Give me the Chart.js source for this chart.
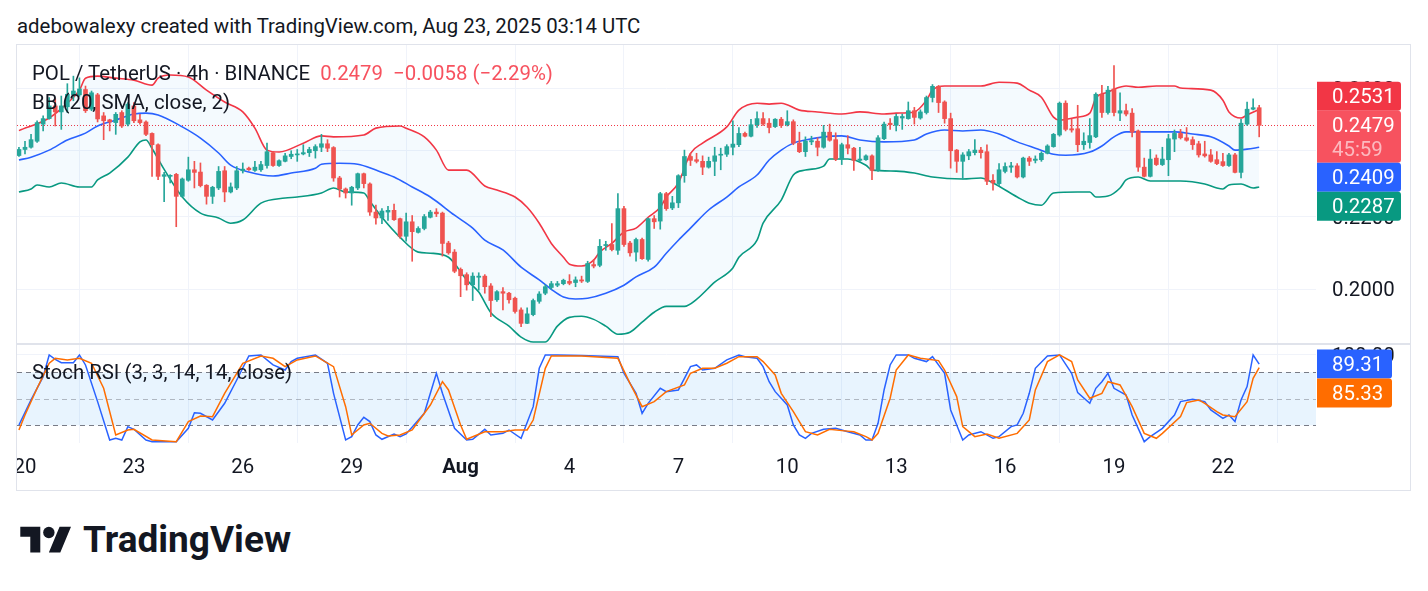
<!DOCTYPE html>
<html lang="en">
<head>
<meta charset="UTF-8">
<title>POL / TetherUS 4h</title>
<script src="https://cdn.jsdelivr.net/npm/chart.js"></script>
<style>
  body { margin: 0; width: 1428px; height: 591px; background: #fff; font-family: Roboto, sans-serif; color: #131722; position: relative; overflow: hidden; }
  .credit { position: absolute; left: 17px; top: 14px; font-size: 20.4px; line-height: 24px; white-space: nowrap; }
  .frame { position: absolute; left: 16px; top: 44px; width: 1393px; height: 445px; border: 1px solid #E0E3EB; }
  #chart { position: absolute; left: 0; top: 0; }
  .legend { position: absolute; left: 15px; font-size: 20.4px; line-height: 24px; white-space: pre; }
  .legend .chg { color: #F7525F; }
  .logo { position: absolute; left: 20px; top: 521px; }
  .logo-text { position: absolute; left: 83px; top: 518px; font-size: 37px; line-height: 44px; font-weight: 700; }
</style>
</head>
<body>
<div class="credit">adebowalexy created with TradingView.com, Aug 23, 2025 03:14 UTC</div>
<div class="frame">
  <canvas id="chart" width="1393" height="445"></canvas>
  <div class="legend" style="top:16px">POL / TetherUS · 4h · BINANCE  <span class="chg">0.2479  −0.0058 (−2.29%)</span></div>
  <div class="legend" style="top:45px">BB (20, SMA, close, 2)</div>
  <div class="legend" style="top:315px">Stoch RSI (3, 3, 14, 14, close)</div>
</div>
<svg class="logo" width="52" height="40" viewBox="0 0 36 28"><path fill="#131722" d="M14 22H7V11H0V4h14v18zM28 22h-8l7.5-18h8L28 22z"/><circle fill="#131722" cx="20" cy="8" r="4"/></svg>
<div class="logo-text">TradingView</div>

<script>
// 4h candles, index 0 = Jul 20 00:00 UTC, first candle is index -1
const startIndex = -1;
const opens = [
  0.2383,0.2402,0.2409,0.2428,0.2483,0.2501,0.2543,0.2523,0.2540,0.2580,0.2580,
  0.2598,0.2532,0.2580,0.2510,0.2497,0.2488,0.2521,0.2483,0.2543,0.2497,
  0.2490,0.2453,0.2417,0.2319,0.2319,0.2325,0.2259,0.2307,0.2339,0.2332,
  0.2292,0.2259,0.2284,0.2336,0.2272,0.2284,0.2336,0.2344,0.2337,0.2339,
  0.2352,0.2392,0.2352,0.2365,0.2380,0.2385,0.2388,0.2392,0.2398,0.2409,
  0.2420,0.2408,0.2314,0.2281,0.2269,0.2284,0.2327,0.2296,0.2213,0.2196,
  0.2213,0.2218,0.2194,0.2144,0.2185,0.2155,0.2166,0.2198,0.2213,0.2210,
  0.2125,0.2100,0.2053,0.2039,0.2012,0.2032,0.2035,0.2009,0.1973,0.1994,
  0.1990,0.1977,0.1947,0.1913,0.1935,0.1969,0.1990,0.2005,0.2011,0.2015,
  0.2021,0.2018,0.2025,0.2021,0.2066,0.2064,0.2118,0.2121,0.2105,0.2223,
  0.2125,0.2100,0.2135,0.2080,0.2194,0.2187,0.2267,0.2225,0.2240,0.2321,
  0.2380,0.2370,0.2365,0.2347,0.2365,0.2384,0.2387,0.2409,0.2417,0.2453,
  0.2444,0.2481,0.2501,0.2486,0.2475,0.2499,0.2481,0.2491,0.2422,0.2395,
  0.2426,0.2428,0.2409,0.2457,0.2433,0.2372,0.2417,0.2406,0.2368,0.2370,
  0.2382,0.2337,0.2436,0.2486,0.2479,0.2503,0.2501,0.2527,0.2503,0.2521,
  0.2571,0.2609,0.2556,0.2501,0.2400,0.2365,0.2382,0.2392,0.2400,0.2395,
  0.2307,0.2297,0.2334,0.2347,0.2351,0.2317,0.2375,0.2368,0.2370,0.2390,
  0.2411,0.2448,0.2552,0.2468,0.2468,0.2417,0.2424,0.2442,0.2582,0.2521,
  0.2600,0.2519,0.2527,0.2519,0.2461,0.2347,0.2319,0.2375,0.2355,0.2370,
  0.2435,0.2453,0.2439,0.2433,0.2420,0.2388,0.2385,0.2370,0.2364,0.2352,
  0.2385,0.2331,0.2483,0.2532,0.2537
];
const highs = [
  0.2409,0.2428,0.2450,0.2494,0.2510,0.2571,0.2567,0.2576,0.2618,0.2644,0.2638,
  0.2610,0.2593,0.2585,0.2521,0.2499,0.2521,0.2527,0.2554,0.2554,0.2515,
  0.2494,0.2455,0.2420,0.2331,0.2324,0.2328,0.2314,0.2378,0.2365,0.2360,
  0.2294,0.2289,0.2349,0.2349,0.2299,0.2349,0.2360,0.2347,0.2365,0.2365,
  0.2422,0.2395,0.2370,0.2390,0.2398,0.2402,0.2417,0.2409,0.2417,0.2450,
  0.2433,0.2411,0.2319,0.2284,0.2289,0.2329,0.2329,0.2299,0.2233,0.2223,
  0.2230,0.2236,0.2196,0.2210,0.2203,0.2171,0.2206,0.2218,0.2223,0.2213,
  0.2130,0.2107,0.2057,0.2044,0.2044,0.2044,0.2039,0.2015,0.1997,0.2005,
  0.1992,0.1980,0.1952,0.1952,0.1975,0.1994,0.2012,0.2021,0.2021,0.2027,
  0.2039,0.2033,0.2035,0.2075,0.2080,0.2135,0.2130,0.2180,0.2267,0.2230,
  0.2130,0.2139,0.2139,0.2196,0.2203,0.2271,0.2271,0.2259,0.2324,0.2400,
  0.2390,0.2390,0.2382,0.2378,0.2409,0.2406,0.2417,0.2494,0.2472,0.2457,
  0.2499,0.2523,0.2521,0.2501,0.2501,0.2505,0.2527,0.2497,0.2457,0.2442,
  0.2444,0.2439,0.2479,0.2483,0.2455,0.2422,0.2446,0.2409,0.2409,0.2385,
  0.2385,0.2446,0.2490,0.2501,0.2516,0.2516,0.2556,0.2538,0.2530,0.2576,
  0.2615,0.2612,0.2560,0.2519,0.2402,0.2392,0.2402,0.2433,0.2409,0.2417,
  0.2324,0.2358,0.2360,0.2362,0.2358,0.2378,0.2380,0.2382,0.2395,0.2417,
  0.2453,0.2556,0.2560,0.2499,0.2545,0.2455,0.2501,0.2587,0.2612,0.2609,
  0.2681,0.2587,0.2549,0.2534,0.2464,0.2375,0.2402,0.2385,0.2409,0.2450,
  0.2464,0.2466,0.2472,0.2442,0.2428,0.2428,0.2402,0.2395,0.2390,0.2390,
  0.2390,0.2499,0.2556,0.2567,0.2545
];
const lows = [
  0.2380,0.2388,0.2406,0.2424,0.2461,0.2499,0.2477,0.2466,0.2521,0.2560,0.2575,
  0.2521,0.2527,0.2490,0.2433,0.2461,0.2450,0.2472,0.2477,0.2488,0.2483,
  0.2446,0.2319,0.2309,0.2243,0.2299,0.2171,0.2257,0.2304,0.2284,0.2287,
  0.2236,0.2238,0.2279,0.2243,0.2269,0.2279,0.2329,0.2337,0.2334,0.2334,
  0.2344,0.2349,0.2349,0.2363,0.2373,0.2365,0.2385,0.2380,0.2375,0.2395,
  0.2395,0.2304,0.2257,0.2254,0.2233,0.2279,0.2284,0.2203,0.2178,0.2180,
  0.2189,0.2189,0.2139,0.2130,0.2075,0.2153,0.2162,0.2196,0.2200,0.2089,
  0.2094,0.2044,0.1981,0.1998,0.1971,0.1998,0.1990,0.1930,0.1969,0.1947,
  0.1964,0.1939,0.1905,0.1912,0.1932,0.1964,0.1986,0.2000,0.2007,0.2012,
  0.2012,0.2007,0.2018,0.2018,0.2057,0.2060,0.2105,0.2103,0.2094,0.2116,
  0.2089,0.2075,0.2080,0.2075,0.2166,0.2164,0.2218,0.2220,0.2226,0.2301,
  0.2352,0.2360,0.2324,0.2344,0.2321,0.2339,0.2380,0.2385,0.2411,0.2442,
  0.2442,0.2472,0.2479,0.2455,0.2472,0.2472,0.2477,0.2417,0.2392,0.2380,
  0.2417,0.2382,0.2406,0.2428,0.2367,0.2355,0.2388,0.2337,0.2365,0.2368,
  0.2309,0.2334,0.2433,0.2466,0.2461,0.2466,0.2499,0.2483,0.2499,0.2516,
  0.2556,0.2521,0.2486,0.2344,0.2331,0.2311,0.2370,0.2385,0.2375,0.2294,
  0.2277,0.2291,0.2329,0.2331,0.2314,0.2314,0.2352,0.2360,0.2365,0.2388,
  0.2409,0.2444,0.2461,0.2457,0.2395,0.2402,0.2406,0.2439,0.2505,0.2516,
  0.2510,0.2494,0.2510,0.2442,0.2334,0.2317,0.2317,0.2352,0.2352,0.2321,
  0.2395,0.2435,0.2428,0.2402,0.2378,0.2378,0.2362,0.2355,0.2349,0.2349,
  0.2329,0.2314,0.2479,0.2530,0.2442
];
const closes = [
  0.2402,0.2409,0.2433,0.2488,0.2501,0.2543,0.2523,0.2543,0.2582,0.2593,0.2600,
  0.2527,0.2587,0.2500,0.2494,0.2490,0.2515,0.2477,0.2549,0.2494,0.2488,
  0.2450,0.2417,0.2319,0.2324,0.2322,0.2259,0.2311,0.2339,0.2331,0.2291,
  0.2259,0.2286,0.2334,0.2272,0.2287,0.2336,0.2341,0.2339,0.2347,0.2355,
  0.2395,0.2352,0.2367,0.2382,0.2387,0.2388,0.2392,0.2402,0.2411,0.2420,
  0.2406,0.2314,0.2281,0.2269,0.2286,0.2327,0.2297,0.2213,0.2196,0.2216,
  0.2218,0.2191,0.2144,0.2185,0.2157,0.2166,0.2200,0.2213,0.2208,0.2124,
  0.2098,0.2048,0.2036,0.2012,0.2035,0.2035,0.2007,0.1971,0.1994,0.1990,
  0.1973,0.1943,0.1913,0.1937,0.1971,0.1988,0.2007,0.2015,0.2015,0.2024,
  0.2016,0.2025,0.2022,0.2069,0.2062,0.2116,0.2121,0.2107,0.2223,0.2121,
  0.2098,0.2135,0.2082,0.2194,0.2185,0.2267,0.2223,0.2240,0.2321,0.2380,
  0.2368,0.2365,0.2347,0.2365,0.2382,0.2387,0.2411,0.2419,0.2453,0.2444,
  0.2481,0.2501,0.2483,0.2472,0.2499,0.2479,0.2491,0.2422,0.2395,0.2428,
  0.2430,0.2409,0.2457,0.2431,0.2372,0.2417,0.2406,0.2368,0.2372,0.2382,
  0.2337,0.2439,0.2483,0.2481,0.2508,0.2508,0.2527,0.2505,0.2523,0.2571,
  0.2609,0.2554,0.2501,0.2398,0.2365,0.2385,0.2395,0.2400,0.2392,0.2304,
  0.2299,0.2339,0.2349,0.2351,0.2317,0.2375,0.2365,0.2372,0.2390,0.2413,
  0.2450,0.2552,0.2466,0.2464,0.2417,0.2428,0.2446,0.2582,0.2521,0.2596,
  0.2521,0.2527,0.2516,0.2457,0.2347,0.2319,0.2372,0.2355,0.2372,0.2436,
  0.2453,0.2439,0.2431,0.2417,0.2385,0.2382,0.2365,0.2358,0.2352,0.2385,
  0.2331,0.2486,0.2532,0.2537,0.2479
];

// Bollinger bands at these candle indices
const bbUpperIdx = [-1,4,7,9,10,12,15,18,21,22,24,27,30,33,36,38,40,42,46,49,51,56,58,62,63,66,68,70,73,76,78,81,83,85,87,89,90,92,94,95,97,99,101,103,105,106,108,110,112,116,118,121,123,125,128,131,135,138,142,144,147,149,150,152,158,161,164,166,168,170,171,174,176,177,179,180,182,184,187,190,191,196,198,199,201,202,204];
const bbUpper = [0.2462,0.2503,0.2552,0.2596,0.2637,0.2644,0.2637,0.2630,0.2613,0.2637,0.2648,0.2641,0.2596,0.2556,0.2523,0.2470,0.2400,0.2394,0.2422,0.2445,0.2442,0.2448,0.2470,0.2477,0.2470,0.2442,0.2400,0.2338,0.2338,0.2290,0.2278,0.2257,0.2227,0.2181,0.2124,0.2086,0.2067,0.2062,0.2078,0.2100,0.2124,0.2156,0.2167,0.2198,0.2227,0.2257,0.2299,0.2390,0.2422,0.2474,0.2529,0.2552,0.2549,0.2552,0.2529,0.2523,0.2516,0.2523,0.2516,0.2519,0.2523,0.2562,0.2596,0.2610,0.2610,0.2623,0.2620,0.2596,0.2572,0.2506,0.2496,0.2506,0.2519,0.2569,0.2589,0.2599,0.2610,0.2606,0.2610,0.2610,0.2603,0.2596,0.2562,0.2523,0.2503,0.2513,0.2531];
const bbBasisIdx = [-1,1,4,7,10,12,15,18,20,22,26,29,32,34,37,41,44,48,49,52,55,58,61,64,67,71,74,76,79,82,85,87,89,91,93,96,99,101,104,106,108,110,113,116,118,121,123,125,127,129,132,135,138,142,147,149,152,155,158,161,164,167,170,172,176,178,180,182,186,190,193,196,199,200,202,204];
const bbBasis = [0.2369,0.2378,0.2400,0.2432,0.2454,0.2477,0.2496,0.2516,0.2519,0.2513,0.2474,0.2438,0.2391,0.2353,0.2332,0.2320,0.2329,0.2344,0.2356,0.2359,0.2356,0.2338,0.2317,0.2287,0.2257,0.2204,0.2167,0.2133,0.2106,0.2059,0.2025,0.2000,0.1980,0.1975,0.1977,0.1990,0.2011,0.2033,0.2059,0.2097,0.2133,0.2167,0.2219,0.2257,0.2287,0.2323,0.2369,0.2400,0.2422,0.2432,0.2442,0.2445,0.2432,0.2426,0.2432,0.2451,0.2464,0.2461,0.2464,0.2451,0.2426,0.2406,0.2387,0.2384,0.2394,0.2413,0.2442,0.2458,0.2458,0.2458,0.2451,0.2442,0.2413,0.2400,0.2403,0.2409];
const bbLowerIdx = [-1,1,2,4,6,9,11,12,14,17,19,20,21,23,26,29,32,34,36,39,43,45,49,51,53,56,57,59,62,65,67,70,73,75,77,80,82,84,86,88,90,92,94,96,98,100,102,104,106,109,111,114,117,118,121,122,125,127,129,132,133,136,139,140,144,147,150,155,158,160,164,166,168,170,174,176,177,179,181,182,184,186,191,195,197,198,199,201,203,204];
const bbLower = [0.2272,0.2281,0.2293,0.2287,0.2299,0.2287,0.2287,0.2308,0.2329,0.2378,0.2426,0.2432,0.2405,0.2340,0.2257,0.2210,0.2196,0.2181,0.2190,0.2239,0.2254,0.2257,0.2269,0.2284,0.2272,0.2269,0.2245,0.2198,0.2141,0.2100,0.2097,0.2086,0.2025,0.1993,0.1940,0.1906,0.1879,0.1867,0.1867,0.1906,0.1928,0.1931,0.1923,0.1906,0.1886,0.1891,0.1916,0.1941,0.1956,0.1956,0.1974,0.2019,0.2057,0.2086,0.2133,0.2181,0.2248,0.2323,0.2338,0.2350,0.2372,0.2372,0.2353,0.2338,0.2335,0.2329,0.2317,0.2311,0.2314,0.2299,0.2257,0.2239,0.2233,0.2269,0.2272,0.2272,0.2257,0.2260,0.2284,0.2308,0.2317,0.2305,0.2305,0.2296,0.2284,0.2281,0.2293,0.2296,0.2284,0.2287];

// Stoch RSI %K and %D
const kIdx = [-1,1,3,4,5,6,8,9,10,12,14,15,16,17,18,20,21,25,27,28,29,31,33,35,37,39,41,43,44,45,48,50,51,53,54,55,56,57,58,59,61,62,63,66,68,69,71,73,74,76,77,79,80,82,84,85,86,88,92,98,99,101,102,103,105,106,108,109,110,111,112,114,116,118,119,121,122,123,124,126,127,128,129,130,132,134,136,138,139,140,141,142,143,144,146,147,149,150,152,153,155,156,158,160,161,163,164,165,166,167,169,171,173,174,176,177,178,179,180,182,183,185,186,188,190,191,193,195,196,198,199,200,201,202,203,204];
const kVals = [20.4,48.7,75.1,99.6,94.7,90.9,90.9,99.6,88.3,46.8,3.4,5.3,3.4,18.5,15.5,3.4,1.5,1.5,16.6,34.3,33.6,26,44.9,71.3,98.5,99.6,88.3,82.6,92.1,95.8,99.6,90.2,56.2,3.4,7.2,20.4,29.1,24.2,9.1,4.2,10.2,7.2,10.2,33.6,78.9,56.2,16.6,3.4,4.2,15.5,9.1,10.9,14.7,5.3,41.1,84.5,99.6,99.6,98.9,97.7,78.9,56.2,33.6,44.9,61.9,58.1,60,73.2,86.4,88.3,82.6,84.5,94,99.6,97.7,95.8,86.4,69.4,58.1,43,20.4,9.1,5.3,10.9,15.5,16.6,12.8,9.1,3.4,3.4,22.3,60,88.3,99.6,99.6,95.8,92.1,97.7,78.9,37.4,3.4,9.1,12.8,5.3,7.2,18.5,20.4,33.6,56.2,84.5,98.5,99.6,78.9,57,44.9,61.9,69.4,78.9,61.9,54.3,31.7,1.5,7.2,16.6,31.7,46.8,49.4,46.8,37.4,27.9,31.7,24.2,48.7,63.8,99.6,89.31];
const dIdx = [-1,0,2,4,5,7,9,11,13,15,17,18,21,25,27,29,31,33,36,39,41,43,45,48,51,53,54,56,57,59,60,62,64,67,69,70,72,73,76,79,81,83,84,86,87,92,98,100,102,104,106,109,110,112,114,116,118,121,122,124,125,127,129,131,133,135,137,139,140,141,143,144,146,148,151,152,154,155,157,159,161,164,166,167,169,171,173,174,176,178,179,181,183,185,187,188,191,192,194,195,197,198,200,202,203,204];
const dVals = [14.7,31.7,61.9,90.2,95.8,94,95.8,90.2,61.9,9.1,14.7,15.5,3.4,1.5,24.2,30.6,29.8,56.2,90.2,98.5,95.8,86.4,94,98.5,86.4,41.1,9.1,20.4,22.3,10.9,7.9,9.1,14.7,43,69.4,60,20.4,4.2,12.8,12.8,14.7,14.7,26,84.5,98.5,98.5,95.8,67.5,41.1,46.8,58.1,65.7,78.9,84.5,84.5,90.2,97.7,97.7,92.1,77,56.2,35.5,12.8,9.1,15.5,14,12.8,7.2,3.4,10.9,50.6,82.6,99.6,95.8,93.2,82.6,52.5,18.5,7.2,10.2,5.3,10.9,26,60,92.1,99.6,92.1,71.3,50.6,56.2,69.4,65.7,41.1,10.9,5.3,10.9,29.8,45.7,48.7,44.9,35.5,31.7,29.8,46.8,73.2,85.33];

const dayTicks = [0, 18, 36, 54, 72, 90, 108, 126, 144, 162, 180, 198];
const dayLabels = ['20', '23', '26', '29', 'Aug', '4', '7', '10', '13', '16', '19', '22'];
const priceTicks = [0.20, 0.22, 0.24, 0.26];
const stochLevels = [20, 50, 80];
const lastPrice = 0.2479;
const countdown = '45:59';

const GREEN = '#26A69A', RED = '#EF5350';
const candleIdx = opens.map((_, k) => startIndex + k);
const candleColors = closes.map((c, k) => c >= opens[k] ? GREEN : RED);
const pts = (idx, vals) => idx.map((x, k) => ({ x, y: vals[k] }));

function tag(ctx, x, top, w, h, color, lines) {
  ctx.fillStyle = color;
  ctx.beginPath();
  ctx.roundRect(x, top, w, h, [0, 3, 3, 0]);
  ctx.fill();
  ctx.font = '20.4px Roboto';
  ctx.textBaseline = 'middle';
  ctx.textAlign = 'left';
  lines.forEach((ln, n) => {
    ctx.fillStyle = ln.color || '#ffffff';
    ctx.fillText(ln.text, x + 15, top + 16 + n * 24.5);
  });
}

const paneDecor = {
  id: 'paneDecor',
  beforeDatasetsDraw(chart) {
    const { ctx, chartArea: a, scales: { y, y2 } } = chart;
    ctx.save();
    const yHi = y2.getPixelForValue(stochLevels[2]);
    const yLo = y2.getPixelForValue(stochLevels[0]);
    ctx.fillStyle = 'rgba(33,150,243,0.1)';
    ctx.fillRect(a.left, yHi, a.right - a.left, yLo - yHi);
    ctx.lineWidth = 1;
    ctx.setLineDash([5, 4]);
    stochLevels.forEach(v => {
      const py = Math.round(y2.getPixelForValue(v)) + 0.5;
      ctx.strokeStyle = v === 50 ? 'rgba(120,123,134,0.5)' : '#787B86';
      ctx.beginPath(); ctx.moveTo(a.left, py); ctx.lineTo(a.right, py); ctx.stroke();
    });
    // price line
    const pp = Math.round(y.getPixelForValue(lastPrice)) + 0.5;
    ctx.setLineDash([1, 2]);
    ctx.strokeStyle = '#F23645';
    ctx.beginPath(); ctx.moveTo(a.left, pp); ctx.lineTo(a.right, pp); ctx.stroke();
    // pane separator
    ctx.setLineDash([]);
    ctx.strokeStyle = '#E0E3EB';
    ctx.lineWidth = 2;
    ctx.beginPath(); ctx.moveTo(0, y2.top); ctx.lineTo(chart.width, y2.top); ctx.stroke();
    ctx.restore();
  },
  afterDraw(chart) {
    const { ctx, chartArea: a, scales: { y, y2 } } = chart;
    ctx.save();
    const x = a.right + 1;
    const priceTop = y.getPixelForValue(lastPrice) - 14.5;
    tag(ctx, x, priceTop - 29, 84, 29, '#F23645', [{ text: bbUpper[bbUpper.length - 1].toFixed(4) }]);
    tag(ctx, x, priceTop, 84, 52, '#F7525F', [{ text: lastPrice.toFixed(4) }, { text: countdown, color: 'rgba(255,255,255,0.6)' }]);
    tag(ctx, x, priceTop + 52, 84, 29, '#2962FF', [{ text: bbBasis[bbBasis.length - 1].toFixed(4) }]);
    tag(ctx, x, priceTop + 81, 84, 29, '#089981', [{ text: bbLower[bbLower.length - 1].toFixed(4) }]);
    const kTop = y2.getPixelForValue(kVals[kVals.length - 1]) - 14.5;
    tag(ctx, x, kTop, 75, 29, '#2962FF', [{ text: kVals[kVals.length - 1].toFixed(2) }]);
    tag(ctx, x, kTop + 29, 75, 29, '#FF6D00', [{ text: dVals[dVals.length - 1].toFixed(2) }]);
    ctx.restore();
  }
};

const lineDs = (label, data, color, axis, order, extra) => Object.assign({
  type: 'line', label, data, yAxisID: axis, borderColor: color, borderWidth: 1.6,
  pointRadius: 0, fill: false, order
}, extra || {});

new Chart(document.getElementById('chart'), {
  type: 'line',
  data: {
    datasets: [
      lineDs('BB upper', pts(bbUpperIdx, bbUpper), '#F23645', 'y', 5, { cubicInterpolationMode: 'monotone' }),
      lineDs('BB basis', pts(bbBasisIdx, bbBasis), '#2962FF', 'y', 5, { cubicInterpolationMode: 'monotone' }),
      lineDs('BB lower', pts(bbLowerIdx, bbLower), '#089981', 'y', 6, {
        cubicInterpolationMode: 'monotone',
        fill: { target: '-2', above: 'rgba(33,150,243,0.05)', below: 'rgba(33,150,243,0.05)' }
      }),
      {
        type: 'bar', label: 'wicks', yAxisID: 'y', order: 2, grouped: false,
        data: candleIdx.map((x, k) => ({ x, y: [lows[k], highs[k]] })),
        backgroundColor: candleColors, barThickness: 1, borderWidth: 0
      },
      {
        type: 'bar', label: 'bodies', yAxisID: 'y', order: 1, grouped: false,
        data: candleIdx.map((x, k) => ({ x, y: [opens[k], closes[k]] })),
        backgroundColor: candleColors, barThickness: 4, borderWidth: 0, minBarLength: 1
      },
      lineDs('%K', pts(kIdx, kVals), '#2962FF', 'y2', 2, { borderWidth: 1.5 }),
      lineDs('%D', pts(dIdx, dVals), '#FF6D00', 'y2', 1, { borderWidth: 1.5 })
    ]
  },
  options: {
    responsive: false,
    animation: false,
    events: [],
    layout: { padding: 0 },
    plugins: { legend: { display: false }, tooltip: { enabled: false } },
    scales: {
      x: {
        type: 'linear', position: 'bottom', offset: false,
        min: -1.322, max: 213.39,
        grid: { color: '#F0F3FA', drawTicks: false },
        border: { display: false },
        afterBuildTicks: s => { s.ticks = dayTicks.map(v => ({ value: v })); },
        afterFit: s => { s.height = 47; s.paddingLeft = 0; s.paddingRight = 0; },
        ticks: {
          autoSkip: false, maxRotation: 0, padding: 13, color: '#131722',
          font: c => ({ family: 'Roboto', size: 20.4, weight: c.tick && c.tick.value === 72 ? 'bold' : 'normal' }),
          callback: v => dayLabels[dayTicks.indexOf(v)]
        }
      },
      y: {
        type: 'logarithmic', position: 'right', stack: 'pane', stackWeight: 299,
        min: 0.1862, max: 0.2754,
        grid: { color: '#F0F3FA', drawTicks: false },
        border: { display: false },
        afterBuildTicks: s => { s.ticks = priceTicks.map(v => ({ value: v })); },
        afterFit: s => { s.width = 94; s.paddingTop = 0; s.paddingBottom = 0; },
        ticks: { padding: 16, labelOffset: 2, color: '#131722', font: { family: 'Roboto', size: 20.4 }, callback: v => Number(v).toFixed(4) }
      },
      y2: {
        type: 'linear', position: 'right', stack: 'pane', stackWeight: 99,
        min: 0, max: 112,
        grid: { color: '#F0F3FA', drawTicks: false },
        border: { display: false },
        afterBuildTicks: s => { s.ticks = [{ value: 100 }]; },
        afterFit: s => { s.width = 94; s.paddingTop = 0; s.paddingBottom = 0; },
        ticks: { padding: 16, labelOffset: 2, color: '#131722', font: { family: 'Roboto', size: 20.4 }, callback: v => Number(v).toFixed(2) }
      }
    }
  },
  plugins: [paneDecor]
});
</script>
</body>
</html>
